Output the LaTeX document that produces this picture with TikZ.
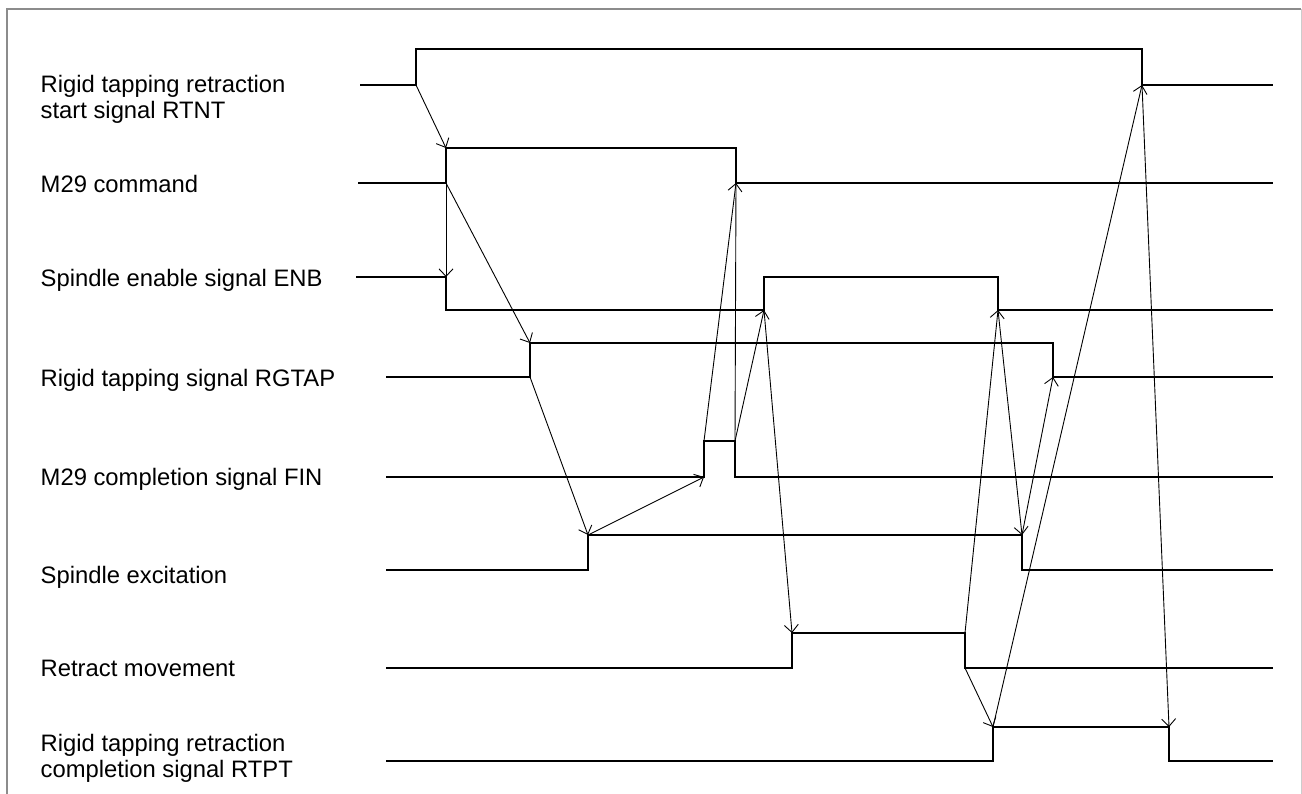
\documentclass[tikz,border=0pt]{standalone}
\usepackage{fontspec}
\setmainfont{Liberation Sans}
\usetikzlibrary{arrows.meta}
\begin{document}
\begin{tikzpicture}[x=1pt,y=-1pt,
  sig/.style={line width=2pt, line join=miter, black},
  cause/.style={line width=0.9pt, black, -{Straight Barb[length=7.5pt,width=14pt,line width=0.9pt]}},
  plain/.style={line width=0.9pt, black},
  lbl/.style={anchor=base west, inner sep=0pt, font=\fontsize{23.8}{26.3}\selectfont},
  frame/.style={line width=1.6pt, draw=black!45}]
\useasboundingbox (0,0) rectangle (1302,794);
% frame (open at bottom)
\draw[frame] (7,794) -- (7,9) -- (1301,9);
\draw[line width=1pt, draw=black!20] (1301,9) -- (1301,794);

% labels
\node[lbl] (l1a) at (40.5,93) {Rigid tapping retraction};
\node[lbl] (l1b) at (40.5,119) {start signal RTNT};
\node[lbl] (l2) at (40.5,193) {M29 command};
\node[lbl] (l3) at (40.5,287) {Spindle enable signal ENB};
\node[lbl] (l4) at (40.5,387) {Rigid tapping signal RGTAP};
\node[lbl] (l5) at (40.5,485) {M29 completion signal FIN};
\node[lbl] (l6) at (40.5,583) {Spindle excitation};
\node[lbl] (l7) at (40.5,676) {Retract movement};
\node[lbl] (l8a) at (40.5,751) {Rigid tapping retraction};
\node[lbl] (l8b) at (40.5,777) {completion signal RTPT};

% transition points
\coordinate (a1) at (416,85);   \coordinate (a2) at (1142,85);
\coordinate (b1) at (446,183);  \coordinate (b1t) at (446,148);  \coordinate (b2) at (736,183);
\coordinate (c1) at (446,277);  \coordinate (c2) at (764,310);   \coordinate (c3) at (998,310);
\coordinate (d1t) at (530,343); \coordinate (d1) at (530,377);   \coordinate (d2) at (1053,377);
\coordinate (e1) at (704,477);  \coordinate (e1t) at (704,441);  \coordinate (e2t) at (735,441);
\coordinate (f1t) at (588,535); \coordinate (f2t) at (1022,535);
\coordinate (g1t) at (792,633); \coordinate (g2t) at (965,633);  \coordinate (g2) at (965,668);
\coordinate (h1t) at (993,727); \coordinate (h2t) at (1169,727);

% signals
\draw[sig] (360,85) -- (a1) -- (416,49) -- (1142,49) -- (a2) -- (1273,85);
\draw[sig] (358,183) -- (b1) -- (b1t) -- (736,148) -- (b2) -- (1273,183);
\draw[sig] (356,277) -- (c1) -- (446,310) -- (c2) -- (764,277) -- (998,277) -- (c3) -- (1273,310);
\draw[sig] (386,377) -- (d1) -- (d1t) -- (1053,343) -- (d2) -- (1273,377);
\draw[sig] (386,477) -- (e1) -- (e1t) -- (e2t) -- (735,477) -- (1273,477);
\draw[sig] (386,570) -- (588,570) -- (f1t) -- (f2t) -- (1022,570) -- (1273,570);
\draw[sig] (386,668) -- (792,668) -- (g1t) -- (g2t) -- (g2) -- (1273,668);
\draw[sig] (386,761) -- (993,761) -- (h1t) -- (h2t) -- (1169,761) -- (1273,761);

% cause-effect arrows
\draw[cause] (a1) -- (b1t);
\draw[cause] (b1) -- (c1);
\draw[cause] (b1) -- (d1t);
\draw[cause] (d1) -- (f1t);
\draw[cause] (f1t) -- (e1);
\draw[cause] (e1t) -- (b2);
\draw[plain] (b2) -- (e2t);
\draw[cause] (e2t) -- (c2);
\draw[cause] (c2) -- (g1t);
\draw[cause] (g2t) -- (c3);
\draw[cause] (c3) -- (f2t);
\draw[cause] (f2t) -- (d2);
\draw[cause] (g2) -- (h1t);
\draw[cause] (h1t) -- (a2);
\draw[cause] (a2) -- (h2t);
\end{tikzpicture}
\end{document}
